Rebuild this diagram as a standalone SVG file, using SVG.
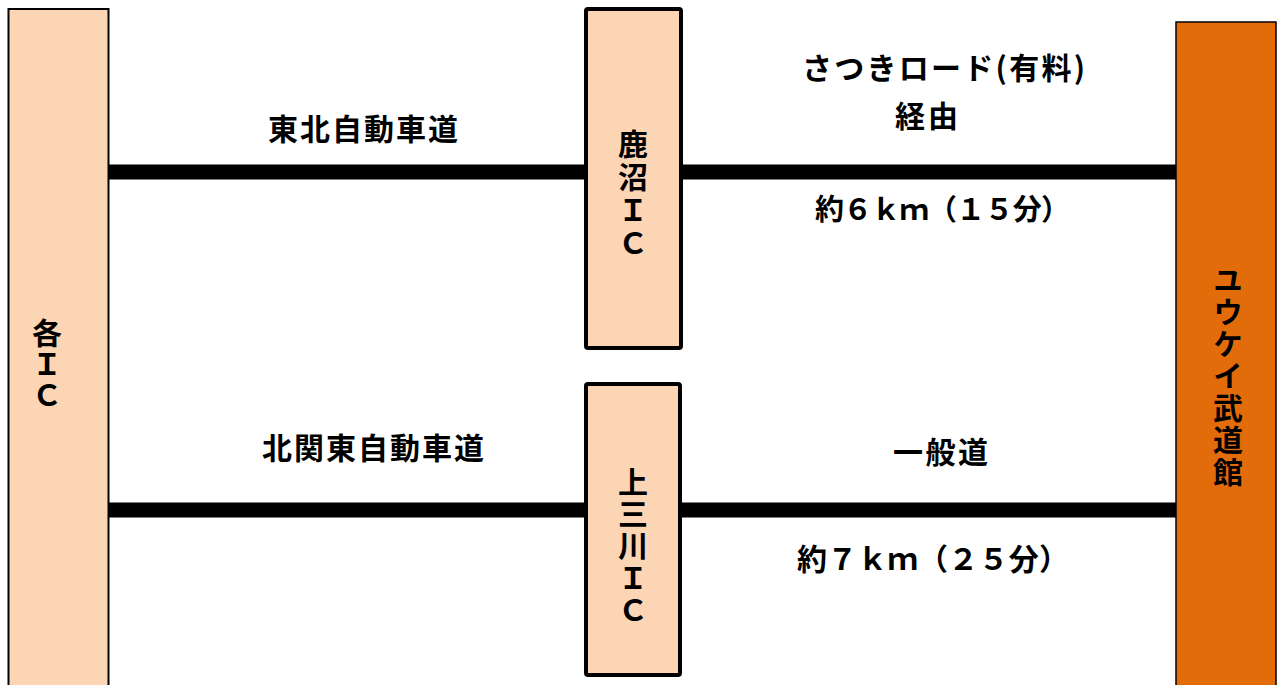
<svg xmlns="http://www.w3.org/2000/svg" width="1281" height="685" viewBox="0 0 1281 685">
<style>
.t{font-family:"Noto Sans CJK JP","Noto Sans CJK SC",sans-serif;font-weight:700;fill:#000;font-size:30px}
.v{writing-mode:vertical-rl;text-anchor:middle;text-orientation:upright}
.light{fill:#FCD5B5;stroke:#000}
.road{stroke:#000;stroke-width:15;fill:none}
</style>
<rect width="1281" height="685" fill="#fff"/>
<g id="connectors">
<line class="road" x1="109" y1="172" x2="586" y2="172"/>
<line class="road" x1="682" y1="172" x2="1176" y2="172"/>
<line class="road" x1="109" y1="510" x2="586" y2="510"/>
<line class="road" x1="682" y1="510" x2="1176" y2="510"/>
</g>
<g id="node-kaku-ic">
<rect class="light" x="8.5" y="9" width="100" height="700" stroke-width="2"/>
<text class="t v" x="47" y="364" letter-spacing="1">各ＩＣ</text>
</g>
<g id="node-kanuma-ic">
<rect class="light" x="586" y="9" width="95" height="339" rx="2" stroke-width="4"/>
<text class="t v" x="633" y="195" letter-spacing="3">鹿沼ＩＣ</text>
</g>
<g id="node-kaminokawa-ic">
<rect class="light" x="586" y="384" width="94" height="291" rx="2" stroke-width="4"/>
<text class="t v" x="633" y="547" letter-spacing="2">上三川ＩＣ</text>
</g>
<g id="node-budokan">
<rect x="1176" y="22" width="100" height="690" fill="#E36C0A" stroke="#000" stroke-width="1.5"/>
<text class="t v" x="1228" y="377" letter-spacing="2">ユウケイ武道館</text>
</g>
<g id="labels">
<text class="t" x="268" y="140" textLength="190" lengthAdjust="spacing">東北自動車道</text>
<text class="t" x="262" y="459" textLength="222" lengthAdjust="spacing">北関東自動車道</text>
<text class="t" x="802" y="79" textLength="283" lengthAdjust="spacing">さつきロード(有料)</text>
<text class="t" x="895" y="127" textLength="63" lengthAdjust="spacing">経由</text>
<text class="t" x="815" y="220" textLength="255" lengthAdjust="spacing" style="font-size:29px">約６ｋｍ（１５分）</text>
<text class="t" x="893" y="463" textLength="95" lengthAdjust="spacing">一般道</text>
<text class="t" x="797" y="570" textLength="272" lengthAdjust="spacing">約７ｋｍ（２５分）</text>
</g>
</svg>
